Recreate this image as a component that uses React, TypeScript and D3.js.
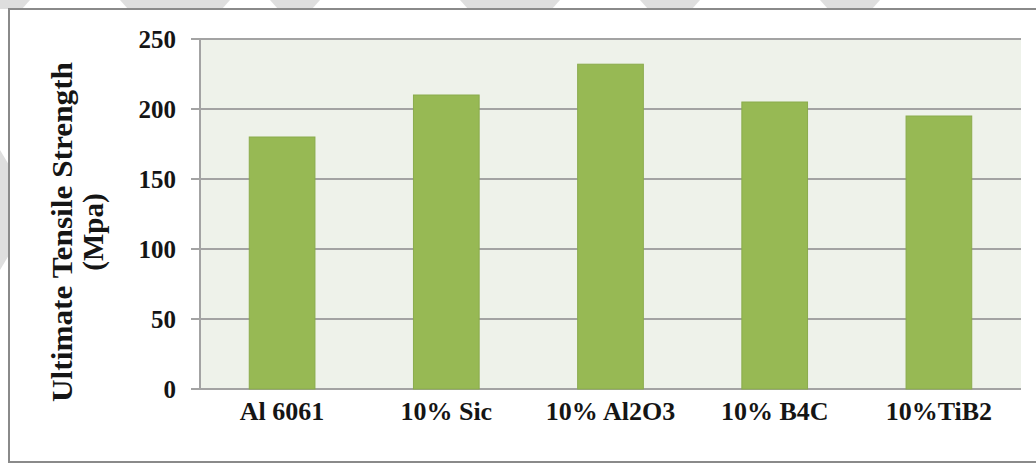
import React from "react";
import * as d3 from "d3";

const categories = ["Al 6061", "10% Sic", "10% Al2O3", "10% B4C", "10%TiB2"];
const strengthValues = [180, 210, 232, 205, 195];
const yTicks = [0, 50, 100, 150, 200, 250];
const yTitleLines = ["Ultimate Tensile Strength", "(Mpa)"];

const W = 1036;
const H = 466;
const plot = { left: 200, right: 1021, top: 39, bottom: 389 };
const FONT = "'Liberation Serif', 'Times New Roman', serif";

// faint diagonal watermark pieces along the top and left margins
const marginShapes: [number, number][][] = [
  [[0, 0], [30, 0], [22, 9], [0, 9]],
  [[120, 0], [230, 0], [222, 9], [128, 9]],
  [[270, 0], [320, 0], [312, 9], [278, 9]],
  [[460, 0], [560, 0], [552, 9], [468, 9]],
  [[640, 0], [700, 0], [692, 9], [648, 9]],
  [[820, 0], [880, 0], [872, 9], [828, 9]],
  [[0, 150], [9, 165], [9, 255], [0, 270]],
];

export default function App() {
  const x = d3
    .scaleBand<string>()
    .domain(categories)
    .range([plot.left, plot.right])
    .paddingInner(0.6)
    .paddingOuter(0.3);
  const y = d3.scaleLinear().domain([0, 250]).range([plot.bottom, plot.top]);
  const line = d3.line();

  return (
    <svg
      width={W}
      height={H}
      style={{ position: "absolute", left: 0, top: 0, background: "#fff" }}
    >
      {marginShapes.map((pts, i) => (
        <path key={i} d={line(pts) + "Z"} fill="#dedede" />
      ))}

      {/* chart frame */}
      <rect x={9} y={9} width={1040} height={453} fill="#fff" stroke="#8a8a8a" strokeWidth={2} />

      {/* plot background */}
      <rect
        x={plot.left}
        y={plot.top}
        width={plot.right - plot.left}
        height={plot.bottom - plot.top}
        fill="#eef2ea"
      />

      {/* gridlines with tick marks */}
      {yTicks.map((t) => (
        <line
          key={t}
          x1={191}
          x2={plot.right}
          y1={y(t)}
          y2={y(t)}
          stroke="#a3a3a3"
          strokeWidth={2}
        />
      ))}
      <line x1={plot.left} x2={plot.left} y1={plot.top} y2={plot.bottom} stroke="#a3a3a3" strokeWidth={2} />

      {/* bars */}
      {categories.map((c, i) => (
        <rect
          key={c}
          x={x(c)}
          y={y(strengthValues[i])}
          width={x.bandwidth()}
          height={y(0) - y(strengthValues[i])}
          fill="#97b954"
          stroke="#8aab4c"
          strokeWidth={1}
        />
      ))}

      {/* y tick labels */}
      {yTicks.map((t) => (
        <text
          key={t}
          x={176}
          y={y(t)}
          dy="0.35em"
          textAnchor="end"
          fontFamily={FONT}
          fontWeight="bold"
          fontSize={25}
          fill="#151515"
        >
          {t}
        </text>
      ))}

      {/* category labels */}
      {categories.map((c) => (
        <text
          key={c}
          x={(x(c) as number) + x.bandwidth() / 2}
          y={420}
          textAnchor="middle"
          fontFamily={FONT}
          fontWeight="bold"
          fontSize={26}
          fill="#151515"
        >
          {c}
        </text>
      ))}

      {/* y axis title */}
      <text
        transform={`translate(72, 232) rotate(-90)`}
        textAnchor="middle"
        fontFamily={FONT}
        fontWeight="bold"
        fontSize={29}
        fill="#151515"
      >
        <tspan x={0} dy={0} textLength={340} lengthAdjust="spacingAndGlyphs">
          {yTitleLines[0]}
        </tspan>
        <tspan x={0} dy={31}>{yTitleLines[1]}</tspan>
      </text>
    </svg>
  );
}
